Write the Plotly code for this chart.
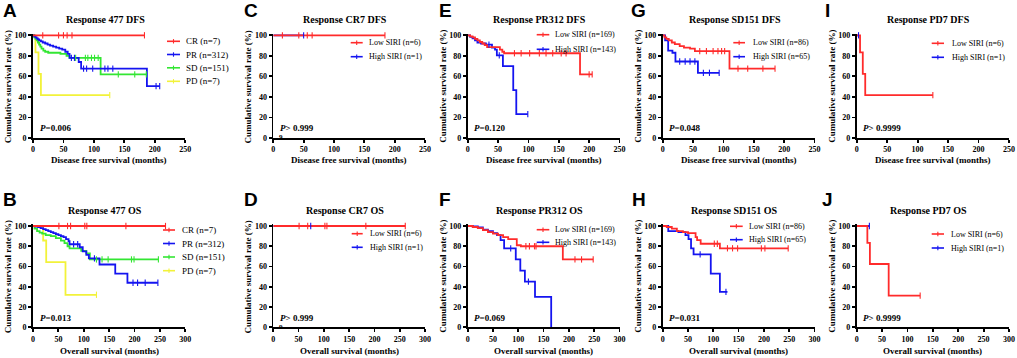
import plotly.graph_objects as go

W, H = 1017, 358

# ---------------- data (time in months, survival in %) ----------------
# A: Response 477 DFS
A_CR_t = [0, 183]
A_CR_s = [100, 100]
A_CR_c = [16, 42, 50, 56, 64, 183]
A_PR_t = [0, 2, 4, 6, 8, 10, 13, 16, 20, 24, 28, 33, 38, 43, 48, 53, 57, 60, 75, 79, 187, 208]
A_PR_s = [100, 99, 98, 97, 96, 95, 94, 93, 92, 91, 90, 89, 88, 87, 86, 84, 82, 78, 74, 67.5, 50.5, 50.5]
A_PR_c = [63, 68, 83, 88, 98, 118, 123, 131, 202, 208]
A_SD_t = [0, 2, 4, 6, 8, 10, 12, 14, 17, 20, 25, 45, 55, 60, 111, 186]
A_SD_s = [100, 98, 96.5, 95, 93, 91, 89, 87, 85, 84, 83, 82, 80, 78, 62, 62]
A_SD_c = [70, 86, 90, 96, 101, 107, 140, 167, 186]
A_PD_t = [0, 4, 9, 13, 126]
A_PD_s = [100, 83.3, 62.5, 41.7, 41.7]
A_PD_c = [126]

# B: Response 477 OS
B_CR_t = [0, 261]
B_CR_s = [100, 100]
B_CR_c = [51, 68, 74, 102, 106, 183, 261]
B_PR_t = [0, 5, 10, 15, 20, 25, 30, 35, 40, 45, 50, 55, 60, 65, 70, 72, 92, 98, 105, 110, 131, 162, 186, 246]
B_PR_s = [100, 99.5, 99, 98, 97, 96, 95, 94, 93, 92, 91, 90, 89, 87, 85, 82, 79, 75, 71.5, 68, 62, 53, 44, 44]
B_PR_c = [80, 88, 121, 197, 206, 221, 246]
B_SD_t = [0, 3, 8, 13, 18, 25, 35, 45, 55, 62, 68, 72, 95, 105, 112, 247]
B_SD_s = [100, 97.5, 95, 93.5, 92.5, 91, 90, 88, 85.5, 83, 80, 78, 75.5, 73, 67, 67]
B_SD_c = [125, 136, 148, 194, 199, 247]
B_PD_t = [0, 20, 26, 64, 125]
B_PD_s = [100, 85.7, 64.3, 32.1, 32.1]
B_PD_c = [125]

# C: Response CR7 DFS
C_LOW_t = [0, 184]
C_LOW_s = [100, 100]
C_LOW_c = [15, 42, 56, 64, 184]
C_HIGH_t = [0, 50]
C_HIGH_s = [100, 100]
C_HIGH_c = [50]

# D: Response CR7 OS
D_LOW_t = [0, 261]
D_LOW_s = [100, 100]
D_LOW_c = [51, 68, 102, 106, 183, 261]
D_HIGH_t = [0, 74]
D_HIGH_s = [100, 100]
D_HIGH_c = [74]

# E: Response PR312 DFS
E_LOW_t = [0, 4, 8, 12, 16, 20, 24, 28, 32, 53, 57, 60, 185, 205]
E_LOW_s = [100, 99, 98, 96.5, 95, 93.5, 92, 90.5, 88.5, 86, 84, 82.5, 62, 62]
E_LOW_c = [77, 88, 102, 118, 129, 140, 154, 162, 200, 205]
E_HIGH_t = [0, 4, 8, 12, 16, 22, 30, 40, 45, 48, 58, 75, 80, 99]
E_HIGH_s = [100, 98.5, 97, 95, 93, 92, 91, 88, 86, 80.5, 70, 46.7, 23.3, 23.3]
E_HIGH_c = [35, 52, 99]

# F: Response PR312 OS
F_LOW_t = [0, 10, 20, 30, 40, 50, 60, 70, 80, 97, 105, 188, 248]
F_LOW_s = [100, 99, 98, 96, 94, 92.5, 91, 89, 87, 81, 80, 67, 67]
F_LOW_c = [115, 122, 132, 135, 212, 225, 248]
F_HIGH_t = [0, 10, 20, 30, 40, 50, 58, 65, 72, 95, 104, 113, 133, 165]
F_HIGH_s = [100, 99.5, 98.5, 96.5, 95, 93, 91, 86, 78, 67, 56, 45, 30, 0]
F_HIGH_c = [85, 120]

# G: Response SD151 DFS
G_LOW_t = [0, 3, 6, 10, 15, 20, 28, 35, 45, 53, 110, 185]
G_LOW_s = [100, 98, 96.5, 95, 93, 91.5, 89.5, 88, 87, 84.5, 67.5, 67.5]
G_LOW_c = [61, 72, 83, 91, 97, 102, 124, 140, 165, 185]
G_HIGH_t = [0, 4, 9, 16, 21, 58, 93]
G_HIGH_s = [100, 95, 85, 83, 74.5, 63.5, 63.5]
G_HIGH_c = [28, 37, 45, 53, 67, 77, 93]

# H: Response SD151 OS
H_LOW_t = [0, 8, 18, 28, 40, 50, 65, 68, 75, 113, 248]
H_LOW_s = [100, 99, 97.5, 95, 94, 93, 89, 86, 82.5, 78, 78]
H_LOW_c = [102, 108, 128, 138, 148, 195, 202, 248]
H_HIGH_t = [0, 11, 31, 45, 51, 56, 61, 95, 113, 128]
H_HIGH_s = [100, 95, 94, 91, 87, 78, 72, 53, 35, 35]
H_HIGH_c = [74, 125]

# I: Response PD7 DFS
I_LOW_t = [0, 5.5, 10, 14, 125]
I_LOW_s = [100, 83.3, 62.5, 41.7, 41.7]
I_LOW_c = [125]
I_HIGH_t = [0, 3]
I_HIGH_s = [100, 100]
I_HIGH_c = [3]

# J: Response PD7 OS
J_LOW_t = [0, 21, 26, 63, 125]
J_LOW_s = [100, 83.3, 62.5, 31.3, 31.3]
J_LOW_c = [125]
J_HIGH_t = [0, 25]
J_HIGH_s = [100, 100]
J_HIGH_c = [25]

Y_TICKS = [0, 20, 40, 60, 80, 100]
P_VALUES = {"A": "0.006", "B": "0.013", "C": "> 0.999", "D": "> 0.999", "E": "0.120",
            "F": "0.069", "G": "0.048", "H": "0.031", "I": "> 0.9999", "J": "> 0.9999"}

# ---------------- styling ----------------
RED, BLUE, GREEN, YELLOW = "#FF2B2B", "#1414F0", "#33E633", "#F2F23A"
SERIF = "Liberation Serif"
DFS = "Disease free survival (months)"
OS = "Overall survival (months)"

# column pixel extents (x=0 .. x=max), row pixel extents (y=0 bottom, y=100 top)
COLS = [(33, 185.3), (273.3, 425), (467.7, 619.5), (662.7, 814.5), (856.7, 1009)]
ROWS = [(138, 35.3), (327.3, 226)]
YTOP = 101.5


def surv_at(t, s, x):
    v = s[0]
    for ti, si in zip(t, s):
        if ti <= x:
            v = si
        else:
            break
    return v


panels = [
    dict(key="A", r=0, c=0, title="Response 477 DFS", xmax=250, xlab=DFS, lfs=9,
         series=[("CR (n=7)", RED, A_CR_t, A_CR_s, A_CR_c), ("PR (n=312)", BLUE, A_PR_t, A_PR_s, A_PR_c),
                 ("SD (n=151)", GREEN, A_SD_t, A_SD_s, A_SD_c), ("PD (n=7)", YELLOW, A_PD_t, A_PD_s, A_PD_c)],
         leg=(167, 180, 184, [41.3, 54.5, 67.8, 81.3])),
    dict(key="B", r=1, c=0, title="Response 477 OS", xmax=300, xlab=OS, lfs=9,
         series=[("CR (n=7)", RED, B_CR_t, B_CR_s, B_CR_c), ("PR (n=312)", BLUE, B_PR_t, B_PR_s, B_PR_c),
                 ("SD (n=151)", GREEN, B_SD_t, B_SD_s, B_SD_c), ("PD (n=7)", YELLOW, B_PD_t, B_PD_s, B_PD_c)],
         leg=(163, 175, 180, [230, 243.5, 257, 270.7])),
    dict(key="C", r=0, c=1, title="Response CR7 DFS", xmax=250, xlab=DFS, lfs=8,
         series=[("Low SIRI (n=6)", RED, C_LOW_t, C_LOW_s, C_LOW_c), ("High SIRI (n=1)", BLUE, C_HIGH_t, C_HIGH_s, C_HIGH_c)],
         leg=(350.7, 362.7, 366.7, [42.7, 56.7])),
    dict(key="D", r=1, c=1, title="Response CR7 OS", xmax=300, xlab=OS, lfs=8,
         series=[("Low SIRI (n=6)", RED, D_LOW_t, D_LOW_s, D_LOW_c), ("High SIRI (n=1)", BLUE, D_HIGH_t, D_HIGH_s, D_HIGH_c)],
         leg=(351.7, 362.7, 367.7, [233.7, 247.3])),
    dict(key="E", r=0, c=2, title="Response PR312 DFS", xmax=250, xlab=DFS, lfs=8,
         series=[("Low SIRI (n=169)", RED, E_LOW_t, E_LOW_s, E_LOW_c), ("High SIRI (n=143)", BLUE, E_HIGH_t, E_HIGH_s, E_HIGH_c)],
         leg=(536.7, 549.3, 553.3, [34.7, 49.3])),
    dict(key="F", r=1, c=2, title="Response PR312 OS", xmax=300, xlab=OS, lfs=8,
         series=[("Low SIRI (n=169)", RED, F_LOW_t, F_LOW_s, F_LOW_c), ("High SIRI (n=143)", BLUE, F_HIGH_t, F_HIGH_s, F_HIGH_c)],
         leg=(536.7, 549.3, 553.3, [229.7, 242.3])),
    dict(key="G", r=0, c=3, title="Response SD151 DFS", xmax=250, xlab=DFS, lfs=8,
         series=[("Low SIRI (n=86)", RED, G_LOW_t, G_LOW_s, G_LOW_c), ("High SIRI (n=65)", BLUE, G_HIGH_t, G_HIGH_s, G_HIGH_c)],
         leg=(733.3, 745, 750.7, [42.7, 56.7])),
    dict(key="H", r=1, c=3, title="Response SD151 OS", xmax=300, xlab=OS, lfs=8,
         series=[("Low SIRI (n=86)", RED, H_LOW_t, H_LOW_s, H_LOW_c), ("High SIRI (n=65)", BLUE, H_HIGH_t, H_HIGH_s, H_HIGH_c)],
         leg=(730, 742.7, 747.3, [226.3, 239.7])),
    dict(key="I", r=0, c=4, title="Response PD7 DFS", xmax=250, xlab=DFS, lfs=8,
         series=[("Low SIRI (n=6)", RED, I_LOW_t, I_LOW_s, I_LOW_c), ("High SIRI (n=1)", BLUE, I_HIGH_t, I_HIGH_s, I_HIGH_c)],
         leg=(931.7, 944, 950, [43.3, 57.3])),
    dict(key="J", r=1, c=4, title="Response PD7 OS", xmax=300, xlab=OS, lfs=8,
         series=[("Low SIRI (n=6)", RED, J_LOW_t, J_LOW_s, J_LOW_c), ("High SIRI (n=1)", BLUE, J_HIGH_t, J_HIGH_s, J_HIGH_c)],
         leg=(931.7, 944, 949.3, [234, 248])),
]

LETTER_X = [9.5, 251, 445, 638.5, 827]
LETTER_Y = [10.5, 199.5]
TITLE_Y = [19.3, 210.6]
XLAB_Y = [160, 350.7]
P_Y = [127.5, 318]

fig = go.Figure()
layout = dict(width=W, height=H, margin=dict(l=0, r=0, t=0, b=0, pad=0, autoexpand=False), autosize=False,
              template="none", paper_bgcolor="white", plot_bgcolor="white", showlegend=False)
annotations = []
shapes = []


def px(x):
    return x / W


def py(y):
    return 1 - y / H


axis_common = dict(showline=True, linecolor="black", linewidth=1.8, ticks="outside", ticklen=3,
                   tickwidth=1.8, tickcolor="black", showgrid=False, zeroline=False, fixedrange=True,
                   automargin=False, mirror=False,
                   tickfont=dict(family=SERIF, size=8, color="black", weight="bold"))

for i, p in enumerate(panels):
    n = i + 1
    xname = "x" if n == 1 else f"x{n}"
    yname = "y" if n == 1 else f"y{n}"
    x0p, x1p = COLS[p["c"]]
    y0p, y100p = ROWS[p["r"]]
    ytop_p = y0p - (y0p - y100p) * YTOP / 100
    layout["xaxis" if n == 1 else f"xaxis{n}"] = dict(
        axis_common, domain=[px(x0p), px(x1p)], range=[0, p["xmax"]],
        tickvals=list(range(0, p["xmax"] + 1, 50)), anchor=yname)
    layout["yaxis" if n == 1 else f"yaxis{n}"] = dict(
        axis_common, domain=[py(y0p), py(ytop_p)], range=[0, YTOP], tickvals=Y_TICKS, anchor=xname)

    # step lines (first legend entry drawn last = on top)
    for name, col, t, s, c in reversed(p["series"]):
        fig.add_trace(go.Scatter(x=t, y=s, mode="lines", line=dict(color=col, width=1.8, shape="hv"),
                                 xaxis=xname, yaxis=yname, hoverinfo="skip"))
    # censor ticks
    for name, col, t, s, c in reversed(p["series"]):
        fig.add_trace(go.Scatter(x=c, y=[surv_at(t, s, v) for v in c], mode="markers",
                                 marker=dict(symbol="line-ns-open", size=4.5, color=col,
                                             line=dict(color=col, width=1.1)),
                                 cliponaxis=False, xaxis=xname, yaxis=yname, hoverinfo="skip"))

    cx = (x0p + x1p) / 2
    r = p["r"]
    # panel letter
    annotations.append(dict(text=f"<b>{p['key']}</b>", x=px(LETTER_X[p['c']]), y=py(LETTER_Y[r]),
                            xref="paper", yref="paper", showarrow=False, xanchor="center", yanchor="middle",
                            font=dict(family="Liberation Sans", size=19, color="black")))
    # title
    annotations.append(dict(text=f"<b>{p['title']}</b>", x=px(cx - 4), y=py(TITLE_Y[r]), xref="paper",
                            yref="paper", showarrow=False, xanchor="center", yanchor="middle",
                            font=dict(family=SERIF, size=10, color="black")))
    # axis titles
    annotations.append(dict(text=f"<b>{p['xlab']}</b>", x=px(cx), y=py(XLAB_Y[r]), xref="paper",
                            yref="paper", showarrow=False, xanchor="center", yanchor="middle",
                            font=dict(family=SERIF, size=9, color="black")))
    annotations.append(dict(text="<b>Cumulative survival rate (%)</b>", x=px(x0p - 25.5),
                            y=py((y0p + y100p) / 2), xref="paper", yref="paper", showarrow=False,
                            textangle=-90, xanchor="center", yanchor="middle",
                            font=dict(family=SERIF, size=9, color="black")))
    # p value
    pv = P_VALUES[p["key"]].replace(">", "&gt;")
    annotations.append(dict(text=f"<b><i>P</i>{'' if pv.startswith('&gt;') else '='}{pv}</b>",
                            x=px(x0p + 4.5), y=py(P_Y[r]), xref="paper", yref="paper", showarrow=False,
                            xanchor="left", yanchor="middle", font=dict(family=SERIF, size=9, color="black")))
    # legend
    lx0, lx1, tx, ys = p["leg"]
    for (name, col, t, s, c), ly in zip(p["series"], ys):
        shapes.append(dict(type="line", xref="paper", yref="paper", x0=px(lx0), x1=px(lx1),
                           y0=py(ly), y1=py(ly), line=dict(color=col, width=1.6)))
        mx = (lx0 + lx1) / 2
        shapes.append(dict(type="line", xref="paper", yref="paper", x0=px(mx), x1=px(mx),
                           y0=py(ly - 2.2), y1=py(ly + 2.2), line=dict(color=col, width=1.1)))
        annotations.append(dict(text=name, x=px(tx), y=py(ly), xref="paper", yref="paper",
                                showarrow=False, xanchor="left", yanchor="middle",
                                font=dict(family=SERIF, size=p["lfs"], color="black")))

# small stray glyphs near the origin of C and D
for yy in (137, 327):
    annotations.append(dict(text="<b>9</b>", x=px(280.5), y=py(yy), xref="paper", yref="paper",
                            showarrow=False, xanchor="center", yanchor="middle",
                            font=dict(family=SERIF, size=7, color="black")))

layout["annotations"] = annotations
layout["shapes"] = shapes
fig.update_layout(**layout)
fig.write_html("out.html", config={"displayModeBar": False, "staticPlot": True},
               post_script="document.body.style.margin='0';document.body.style.overflow='hidden';")
